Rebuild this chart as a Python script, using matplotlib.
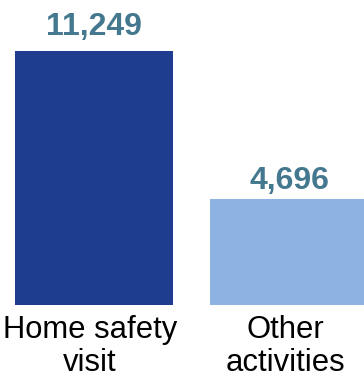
import matplotlib
matplotlib.use("Agg")
import matplotlib.pyplot as plt
import matplotlib.transforms as mtransforms

categories = ["Home safety\nvisit", "Other\nactivities"]
values = [11249, 4696]
value_labels = ["11,249", "4,696"]

bar_colors = ["#1f3d8f", "#8db3e2"]
label_color = "#44788f"
label_offsets = [16, 10]  # px above bar top

plt.rcParams["font.family"] = ["Liberation Sans", "DejaVu Sans"]

fig = plt.figure(figsize=(3.64, 3.80), dpi=100)
ax = fig.add_axes([0, 75 / 380, 1, 305 / 380])

x = range(len(values))
bars = ax.bar(x, values, width=0.81, color=bar_colors)

for b, lab, off in zip(bars, value_labels, label_offsets):
    ax.annotate(lab, (b.get_x() + b.get_width() / 2, b.get_height()),
                xytext=(0, off * 0.72), textcoords="offset points",
                ha="center", va="baseline", fontsize=23, fontweight="bold",
                color=label_color)

ax.set_xlim(-0.482, 1.385)
ax.set_ylim(0, 11249 * 305 / 254)
ax.set_xticks(list(x))
ax.set_xticklabels(categories, fontsize=22.3, linespacing=1.12)
ax.tick_params(axis="x", length=0, pad=7.5)
# nudge category labels slightly left
shift = mtransforms.ScaledTranslation(-4 / 100, 0, fig.dpi_scale_trans)
for t in ax.get_xticklabels():
    t.set_transform(t.get_transform() + shift)
ax.set_yticks([])
for s in ax.spines.values():
    s.set_visible(False)

fig.savefig("out.png", dpi=100)
